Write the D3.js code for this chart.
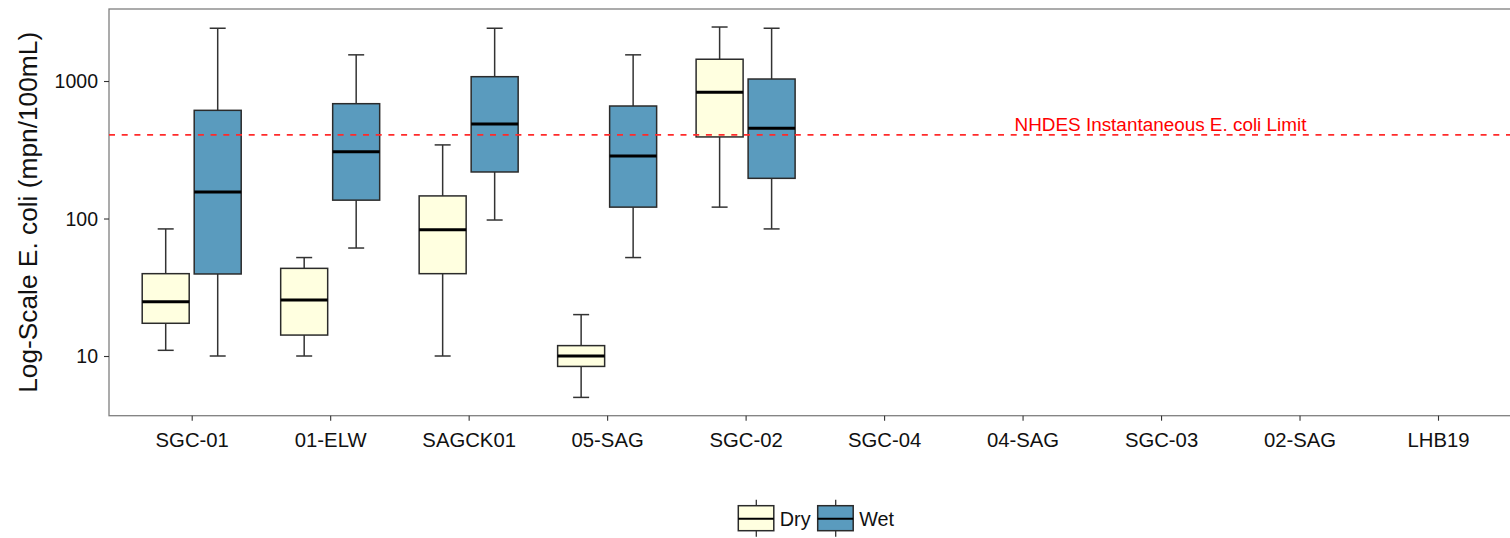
<!DOCTYPE html>
<html>
<head>
<meta charset="utf-8">
<script src="https://cdn.jsdelivr.net/npm/d3@7"></script>
<style>
  html, body { margin: 0; padding: 0; background: #fff; }
  svg { display: block; font-family: "Liberation Sans", Arial, sans-serif; }
</style>
</head>
<body>
<svg id="chart" width="1510" height="538"></svg>
<script>
// Sampling sites along the x axis
const sites = ["SGC-01", "01-ELW", "SAGCK01", "05-SAG", "SGC-02", "SGC-04", "04-SAG", "SGC-03", "02-SAG", "LHB19"];
const seasons = ["Dry", "Wet"];
const seasonFill = ["#FFFFE0", "#5A9BBE"];

// Box statistics (mpn/100mL) for sites with data, in site order
const dryLow  = [11,   10,   10,   5,    121];
const dryQ1   = [17.3, 14.2, 39.7, 8.4,  392];
const dryMed  = [24.8, 25.5, 83,   10,   830];
const dryQ3   = [39.7, 43.4, 146,  11.9, 1440];
const dryHigh = [84,   52,   343,  20,   2470];

const wetLow  = [10,   61,   97.5, 52,   84];
const wetQ1   = [39.5, 136,  218,  121,  196];
const wetMed  = [156,  306,  487,  285,  453];
const wetQ3   = [612,  684,  1075, 658,  1034];
const wetHigh = [2420, 1550, 2420, 1550, 2420];

const yTicks = [10, 100, 1000];
const limitValue = 406;
const limitLabel = "NHDES Instantaneous E. coli Limit";
const yTitle = "Log-Scale E. coli (mpn/100mL)";

const svg = d3.select("#chart");

const panel = { left: 109, top: 9, right: 1521, bottom: 415.7 };

const x = d3.scalePoint().domain(sites).range([191.7, 1438]);
const dodge = d3.scaleOrdinal().domain(seasons).range([-26, 26]);
const y = d3.scaleLog().domain([3.68, 3340]).range([panel.bottom, panel.top]);

// Assemble box records from the stat arrays
const stats = { Dry: [dryLow, dryQ1, dryMed, dryQ3, dryHigh], Wet: [wetLow, wetQ1, wetMed, wetQ3, wetHigh] };
const boxes = [];
seasons.forEach((s, si) => {
  const [lo, q1, md, q3, hi] = stats[s];
  lo.forEach((_, i) => {
    boxes.push({ site: sites[i], season: s, fill: seasonFill[si], lo: lo[i], q1: q1[i], med: md[i], q3: q3[i], hi: hi[i] });
  });
});

// Panel background and border
svg.append("rect")
  .attr("x", panel.left).attr("y", panel.top)
  .attr("width", panel.right - panel.left).attr("height", panel.bottom - panel.top)
  .attr("fill", "#fff").attr("stroke", "#7f7f7f").attr("stroke-width", 1.3);

// Axes
const yAxis = d3.axisLeft(y).tickValues(yTicks).tickFormat(d3.format("d")).tickSize(5).tickPadding(6);
const gy = svg.append("g").attr("transform", `translate(${panel.left},0)`).call(yAxis);
gy.select(".domain").remove();
gy.selectAll(".tick line").attr("stroke", "#333").attr("stroke-width", 1.1);
gy.selectAll(".tick text").attr("font-size", 19.5).attr("fill", "#111")
  .attr("font-family", "Liberation Sans, Arial, sans-serif").attr("dy", "0.35em");

const xAxis = d3.axisBottom(x).tickSize(5).tickPadding(12);
const gx = svg.append("g").attr("transform", `translate(0,${panel.bottom})`).call(xAxis);
gx.select(".domain").remove();
gx.selectAll(".tick line").attr("stroke", "#333").attr("stroke-width", 1.1);
gx.selectAll(".tick text").attr("font-size", 20.3).attr("fill", "#111")
  .attr("font-family", "Liberation Sans, Arial, sans-serif");

// Y axis title
svg.append("text")
  .attr("transform", `translate(37,${(panel.top + panel.bottom) / 2}) rotate(-90)`)
  .attr("text-anchor", "middle")
  .attr("font-size", 26.3).attr("fill", "#111")
  .text(yTitle);

// Box plots
const halfW = 23.5, capHalf = 8;
const g = svg.append("g");
const bx = g.selectAll("g.box").data(boxes).join("g").attr("class", "box")
  .attr("transform", d => `translate(${x(d.site) + dodge(d.season)},0)`);

bx.append("line").attr("x1", 0).attr("x2", 0)
  .attr("y1", d => y(d.hi)).attr("y2", d => y(d.q3))
  .attr("stroke", "#333").attr("stroke-width", 1.5);
bx.append("line").attr("x1", 0).attr("x2", 0)
  .attr("y1", d => y(d.q1)).attr("y2", d => y(d.lo))
  .attr("stroke", "#333").attr("stroke-width", 1.5);
bx.append("line").attr("x1", -capHalf).attr("x2", capHalf)
  .attr("y1", d => y(d.hi)).attr("y2", d => y(d.hi))
  .attr("stroke", "#333").attr("stroke-width", 1.5);
bx.append("line").attr("x1", -capHalf).attr("x2", capHalf)
  .attr("y1", d => y(d.lo)).attr("y2", d => y(d.lo))
  .attr("stroke", "#333").attr("stroke-width", 1.5);
bx.append("rect")
  .attr("x", -halfW).attr("width", halfW * 2)
  .attr("y", d => y(d.q3)).attr("height", d => y(d.q1) - y(d.q3))
  .attr("fill", d => d.fill).attr("stroke", "#2b2b2b").attr("stroke-width", 1.5);
bx.append("line").attr("x1", -halfW).attr("x2", halfW)
  .attr("y1", d => y(d.med)).attr("y2", d => y(d.med))
  .attr("stroke", "#000").attr("stroke-width", 3);

// Limit reference line and label
svg.append("line")
  .attr("x1", panel.left).attr("x2", panel.right)
  .attr("y1", y(limitValue)).attr("y2", y(limitValue))
  .attr("stroke", "#ff2b2b").attr("stroke-width", 1.6)
  .attr("stroke-dasharray", "6,6.7");
svg.append("text")
  .attr("x", 1160.5).attr("y", y(limitValue) - 3.6)
  .attr("text-anchor", "middle")
  .attr("font-size", 18.9).attr("fill", "#ff0000")
  .text(limitLabel);

// Legend
const legendX = [738.3, 817.7];
const lg = svg.append("g");
const keys = lg.selectAll("g.key").data(seasons).join("g").attr("class", "key")
  .attr("transform", (d, i) => `translate(${legendX[i]},505.7)`);
keys.append("line").attr("x1", 18).attr("x2", 18).attr("y1", -6).attr("y2", 31)
  .attr("stroke", "#333").attr("stroke-width", 1.3);
keys.append("rect").attr("x", 0).attr("y", 0).attr("width", 35.5).attr("height", 25)
  .attr("fill", (d, i) => seasonFill[i]).attr("stroke", "#2b2b2b").attr("stroke-width", 1.5);
keys.append("line").attr("x1", 0).attr("x2", 35.5).attr("y1", 13).attr("y2", 13)
  .attr("stroke", "#000").attr("stroke-width", 2);
keys.append("text").attr("x", 41.5).attr("y", 20.5)
  .attr("font-size", 19.8).attr("fill", "#111")
  .text(d => d);
</script>
</body>
</html>
